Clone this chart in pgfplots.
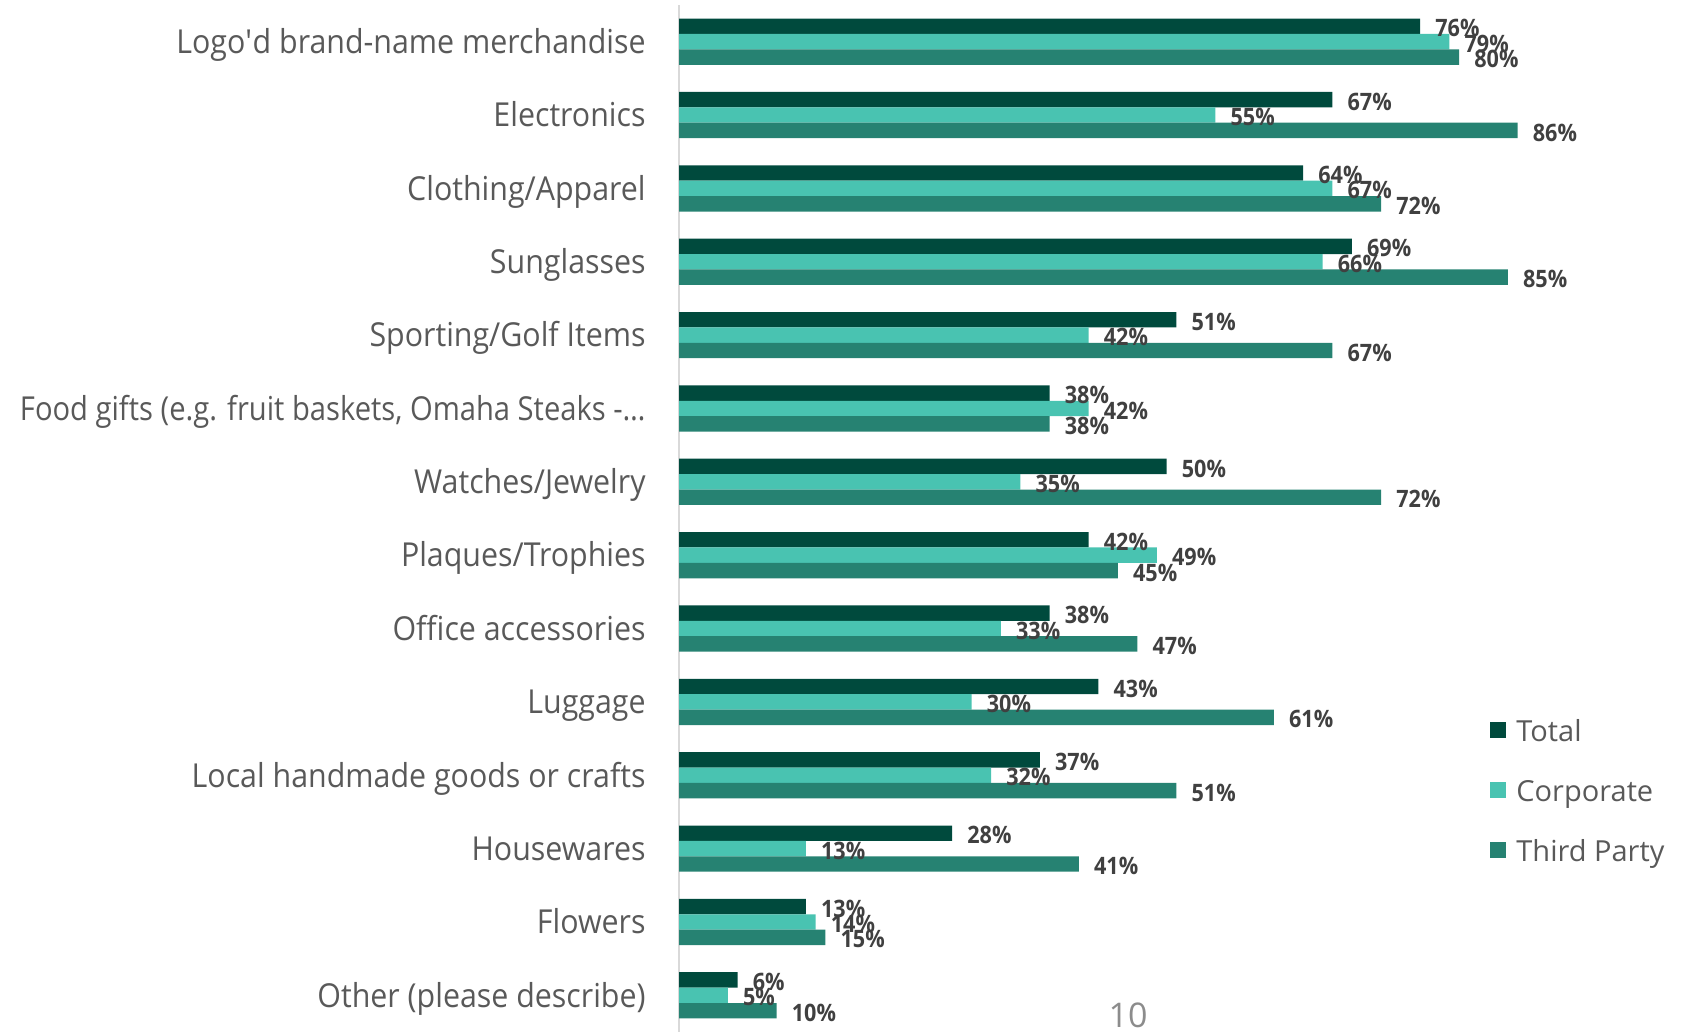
\documentclass[border=0pt]{standalone}
\usepackage{fontspec}
\usepackage{graphicx}
\usepackage{pgfplots}
\pgfplotsset{compat=1.18}
\setmainfont{Open Sans}
\newfontfamily\catfont{Open Sans}[FakeStretch=0.92]
\newfontfamily\legfont{Open Sans}
\newfontfamily\lblfont{Open Sans}[FakeStretch=0.9]
\definecolor{cTotal}{HTML}{004A3D}
\definecolor{cCorp}{HTML}{49C3B1}
\definecolor{cThird}{HTML}{268272}
\definecolor{txt}{HTML}{595959}
\definecolor{lbl}{HTML}{404040}
\begin{document}
\begin{tikzpicture}
\path[use as bounding box] (0,0) rectangle (848pt,516pt);
\begin{axis}[
  at={(339.5pt,0pt)}, anchor=south west,
  width=507pt, height=513.5pt, scale only axis,
  xmin=0, xmax=104, ymin=-0.5, ymax=13.5, y dir=reverse,
  xbar, bar width=0.21,
  hide x axis,
  axis y line*=left,
  axis line style={draw=black!15, line width=0.75pt},
  ytick={0,...,13},
  yticklabels={Logo\textquotesingle d brand-name merchandise, Electronics, Clothing/Apparel, Sunglasses, Sporting/Golf Items, {\scalebox{0.96}[1]{Food gifts (e.g. fruit baskets, Omaha Steaks -…}}, Watches/Jewelry, Plaques/Trophies, Office accessories, Luggage, Local handmade goods or crafts, Housewares, Flowers, Other (please describe)},
  major tick length=0pt,
  yticklabel style={font=\catfont\fontsize{16.5}{19}\selectfont, text=txt, anchor=east, inner sep=0pt, xshift=-16.5pt, text height=15pt, text depth=3.2pt},
  point meta=x,
  /pgf/number format/assume math mode=true,
  nodes near coords={\pgfmathprintnumber{\pgfplotspointmeta}\%},
  nodes near coords style={font=\lblfont\bfseries\fontsize{12}{14}\selectfont, text=lbl, anchor=west, inner sep=0pt, xshift=7.5pt, yshift=-1pt},
  legend style={draw=none, fill=none, at={(axis description cs:0.7998,0.2327)}, anchor=west, inner sep=0pt, row sep=16pt,
    nodes={inner sep=0pt, anchor=base west, text height=11pt, text depth=3pt, font=\legfont\fontsize{14.5}{17}\selectfont, text=txt}},
  legend cell align=left,
  legend image code/.code={\fill[#1] (0pt,1.35pt) rectangle (8pt,9.35pt);},
]
\addplot[fill=cTotal, draw=none, bar shift=-0.21] coordinates {
(76,0) (67,1) (64,2) (69,3) (51,4) (38,5) (50,6) (42,7) (38,8) (43,9) (37,10) (28,11) (13,12) (6,13)};
\addplot[fill=cCorp, draw=none, bar shift=0] coordinates {
(79,0) (55,1) (67,2) (66,3) (42,4) (42,5) (35,6) (49,7) (33,8) (30,9) (32,10) (13,11) (14,12) (5,13)};
\addplot[fill=cThird, draw=none, bar shift=0.21] coordinates {
(80,0) (86,1) (72,2) (85,3) (67,4) (38,5) (72,6) (45,7) (47,8) (61,9) (51,10) (41,11) (15,12) (10,13)};
\legend{\hspace{5pt}Total, \hspace{5pt}Corporate, \hspace{5pt}Third Party}
\end{axis}
\node[anchor=base, inner sep=0pt, font=\legfont\fontsize{17}{20}\selectfont, text=black!45] at (564pt,2pt) {10};
\end{tikzpicture}
\end{document}
